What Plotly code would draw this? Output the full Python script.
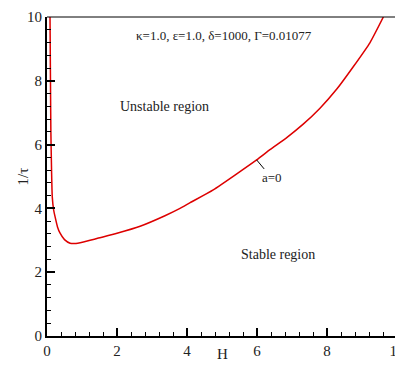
import plotly.graph_objects as go

H = [0.086, 0.1, 0.11, 0.13, 0.15, 0.19, 0.23, 0.3, 0.37, 0.5, 0.66, 0.8, 1.04, 1.23, 1.47,
     2.0, 2.66, 3.37, 3.8, 4.09, 4.75, 5.99, 6.37, 6.85, 7.32, 7.8, 8.28, 8.75, 9.23, 9.61]
inv_tau = [10.0, 7.9, 6.46, 5.2, 4.37, 3.95, 3.74, 3.42, 3.23, 3.02, 2.91, 2.9, 2.95, 3.0, 3.07,
           3.22, 3.44, 3.77, 4.0, 4.18, 4.58, 5.52, 5.84, 6.22, 6.64, 7.14, 7.74, 8.44, 9.2, 10.0]
x_ticks = [0, 2, 4, 6, 8, 10]
y_ticks = [0, 2, 4, 6, 8, 10]

FONT = "Liberation Serif"
TXT = "#222"

fig = go.Figure()
fig.add_trace(go.Scatter(x=H, y=inv_tau, mode="lines",
                         line=dict(color="#dd0000", width=1.5, shape="spline", smoothing=0.5),
                         showlegend=False, hoverinfo="skip", cliponaxis=True))

axis_common = dict(
    range=[0, 10], showgrid=False, zeroline=False, showline=True, linecolor="black",
    linewidth=2, mirror=False, ticks="inside", ticklen=8, tickwidth=1.5, tickcolor="black",
    tickfont=dict(family=FONT, size=15, color=TXT), automargin=False,
    ticklabeloverflow="allow",
    minor=dict(ticks="inside", ticklen=4, tickwidth=1, tickcolor="black", dtick=0.4),
)

# the page body has an 8px default margin, so the figure is sized/offset accordingly
fig.update_layout(
    width=395, height=364,
    margin=dict(l=39, r=6, t=9, b=36),
    paper_bgcolor="white", plot_bgcolor="white",
    font=dict(family=FONT),
    xaxis=dict(**axis_common, tickvals=x_ticks),
    yaxis=dict(**axis_common, tickvals=y_ticks),
    shapes=[
        dict(type="line", xref="paper", yref="paper", x0=0, x1=1, y0=1, y1=1,
             line=dict(color="black", width=1)),
        dict(type="line", xref="paper", yref="paper", x0=1, x1=1, y0=0, y1=1,
             line=dict(color="black", width=1)),
    ],
    annotations=[
        dict(x=0.5, y=0, xref="paper", yref="paper", text="H", showarrow=False,
             yshift=-28, font=dict(family=FONT, size=15, color=TXT)),
        dict(x=0, y=0.5, xref="paper", yref="paper", text="1/τ", showarrow=False,
             xshift=-35, textangle=-90, font=dict(family=FONT, size=15, color=TXT)),
        dict(x=5.05, y=9.43, xref="x", yref="y", text="κ=1.0, ε=1.0, δ=1000, Γ=0.01077",
             showarrow=False, font=dict(family=FONT, size=13, color=TXT)),
        dict(x=3.37, y=7.18, xref="x", yref="y", text="Unstable region",
             showarrow=False, font=dict(family=FONT, size=14, color=TXT)),
        dict(x=6.6, y=2.57, xref="x", yref="y", text="Stable region",
             showarrow=False, font=dict(family=FONT, size=14, color=TXT)),
        dict(x=5.99, y=5.52, xref="x", yref="y", text="a=0", showarrow=True,
             arrowhead=0, arrowwidth=1, arrowcolor="black", ax=15, ay=18,
             font=dict(family=FONT, size=13, color=TXT)),
    ],
)

fig.write_html("out.html")
